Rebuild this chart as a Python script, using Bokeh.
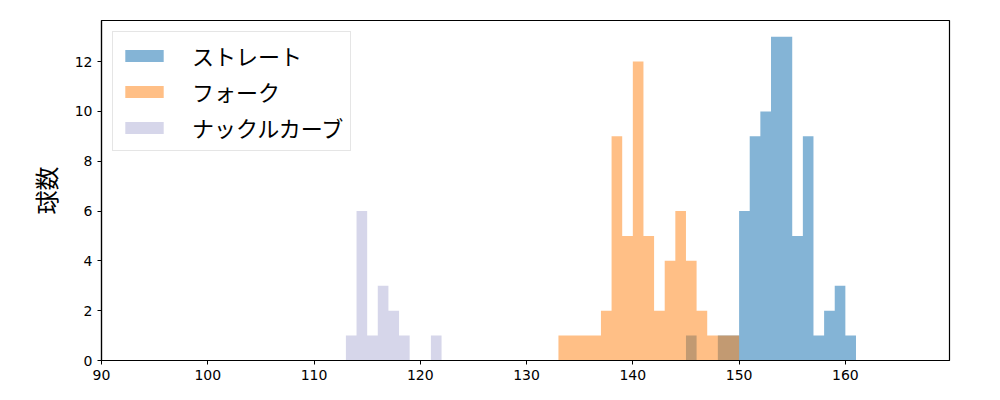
from bokeh.plotting import figure
from bokeh.models import Range1d, FixedTicker, Legend, LegendItem
from bokeh.embed import file_html
from bokeh.resources import INLINE

# Data (bin left edges, bin width 1, counts)
bin_width = 1.0
straight_bins = [145, 148, 149, 150, 151, 152, 153, 154, 155, 156, 157, 158, 159, 160]
straight_counts = [1, 1, 1, 6, 9, 10, 13, 13, 5, 9, 1, 2, 3, 1]

fork_bins = [133, 134, 135, 136, 137, 138, 139, 140, 141, 142, 143, 144, 145, 146, 147, 148, 149]
fork_counts = [1, 1, 1, 1, 2, 9, 5, 12, 5, 2, 4, 6, 4, 2, 1, 1, 1]

knuckle_bins = [113, 114, 115, 116, 117, 118, 121]
knuckle_counts = [1, 6, 1, 3, 2, 1, 1]

labels = ["ストレート", "フォーク", "ナックルカーブ"]
x_ticks = [90, 100, 110, 120, 130, 140, 150, 160]
y_ticks = [0, 2, 4, 6, 8, 10, 12]

JP = "Noto Sans CJK JP"
TICK_FONT = "DejaVu Sans"

p = figure(width=984, height=384, output_backend="svg", toolbar_location=None,
           x_range=Range1d(90, 169.8), y_range=Range1d(0, 13.65),
           min_border_left=101, min_border_right=35, min_border_top=20, min_border_bottom=24)
p.xgrid.visible = False
p.ygrid.visible = False
p.outline_line_color = "black"
p.outline_line_width = 1.2


def step_outline(bins, counts):
    """Build a histogram outline (step polygon) from bin edges and counts."""
    xs, ys = [], []
    prev_right = None
    for b, c in zip(bins, counts):
        left, right = b, b + bin_width
        if prev_right is None or left != prev_right:
            if prev_right is not None:
                xs.append(prev_right); ys.append(0)
            xs.append(left); ys.append(0)
        xs.extend([left, right]); ys.extend([c, c])
        prev_right = right
    xs.append(prev_right); ys.append(0)
    return xs, ys


def hist(bins, counts, color, alpha):
    xs, ys = step_outline(bins, counts)
    return p.patch(x=xs, y=ys, fill_color=color, fill_alpha=alpha, line_color=None)


r1 = hist(straight_bins, straight_counts, "#1f77b4", 0.55)
r2 = hist(fork_bins, fork_counts, "#ff7f0e", 0.5)
r3 = hist(knuckle_bins, knuckle_counts, "#aeaed6", 0.5)

for ax in (p.xaxis[0], p.yaxis[0]):
    ax.major_label_text_font = TICK_FONT
    ax.major_label_text_font_size = "14px"
    ax.major_label_text_color = "black"
    ax.axis_line_color = "black"
    ax.axis_line_width = 1.2
    ax.major_tick_line_color = "black"
    ax.major_tick_in = 0
    ax.major_tick_out = 4
    ax.minor_tick_line_color = None

p.xaxis.ticker = FixedTicker(ticks=x_ticks)
p.yaxis.ticker = FixedTicker(ticks=y_ticks)
p.yaxis.axis_label = "球数"
p.yaxis.axis_label_text_font = JP
p.yaxis.axis_label_text_font_size = "24px"
p.yaxis.axis_label_text_font_style = "normal"
p.yaxis.axis_label_text_color = "black"
p.yaxis.axis_label_standoff = 9

legend = Legend(items=[LegendItem(label=labels[0], renderers=[r1]),
                       LegendItem(label=labels[1], renderers=[r2]),
                       LegendItem(label=labels[2], renderers=[r3])],
                location="top_left")
legend.label_text_font = JP
legend.label_text_font_size = "22px"
legend.label_text_color = "black"
legend.glyph_width = 48
legend.glyph_height = 15
legend.label_height = 20
legend.label_standoff = 24
legend.spacing = 4
legend.padding = 7
legend.margin = 11
legend.border_line_color = "#cccccc"
legend.border_line_width = 1
legend.background_fill_alpha = 0.8
p.add_layout(legend)

open("out.html", "w").write(file_html(p, INLINE))
